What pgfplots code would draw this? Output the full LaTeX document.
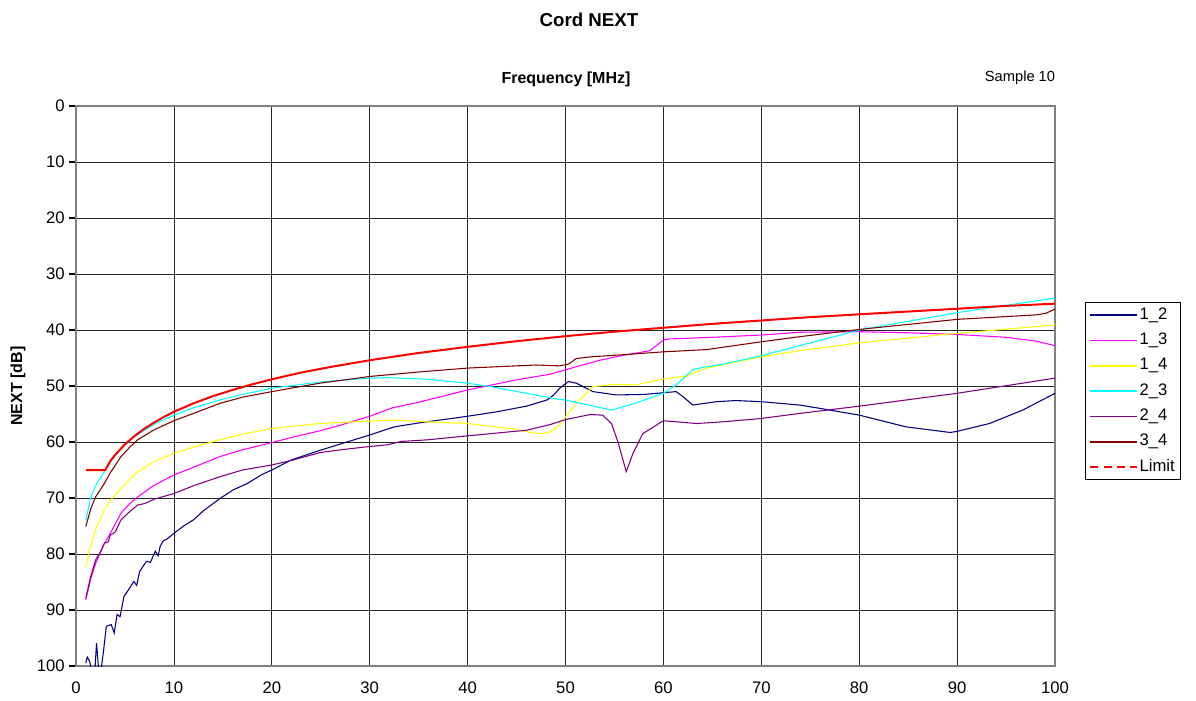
\documentclass[border=0pt]{standalone}
\usepackage{fontspec}
\setmainfont{Liberation Sans}
\usepackage{pgfplots}
\pgfplotsset{compat=1.18}
\definecolor{cnavy}{RGB}{0,0,128}
\definecolor{cmag}{RGB}{255,0,255}
\definecolor{cyel}{RGB}{255,255,0}
\definecolor{ccyan}{RGB}{0,255,255}
\definecolor{cpurp}{RGB}{128,0,128}
\definecolor{cbrown}{RGB}{128,0,0}
\definecolor{cred}{RGB}{255,0,0}
\begin{document}
\begin{tikzpicture}
\path[use as bounding box] (-57pt,-25.5pt) rectangle (840pt,499.5pt);
\begin{axis}[
  at={(0pt,0pt)}, anchor=south west,
  scale only axis, width=734.25pt, height=420pt,
  xmin=0, xmax=100, ymin=0, ymax=100, y dir=reverse,
  xtick={0,10,...,100}, ytick={0,10,...,100},
  grid=major,
  major grid style={black!85, line width=0.6pt},
  axis line style={gray, line width=1.2pt},
  tick align=outside, major tick length=5pt,
  xtick style={draw=none},
  ytick style={draw=none},
  /pgf/number format/assume math mode=true,
  tick label style={font=\fontsize{12.5}{14}\selectfont},
  xticklabel style={yshift=-3pt},
  title={\textbf{Cord NEXT}},
  title style={at={(axis description cs:0.524,1.14)}, anchor=center, font=\fontsize{14}{16}\selectfont},
  xlabel={\textbf{Frequency [MHz]}},
  xlabel style={at={(axis description cs:0.5005,1.048)}, anchor=center, font=\fontsize{12}{14}\selectfont},
  ylabel={\textbf{NEXT [dB]}},
  ylabel style={at={(axis description cs:-0.0592,0.5)}, anchor=center, rotate=0, font=\fontsize{12}{14}\selectfont},
  legend style={at={(axis description cs:1.0306,0.65)}, anchor=north west, draw=black, line width=0.75pt,
    font=\fontsize{12.5}{14}\selectfont, fill=white, inner xsep=3pt, inner ysep=2pt, row sep=4pt,
    nodes={inner sep=1.5pt, text height=9pt, text depth=3pt}},
  legend cell align=left,
  legend image code/.code={\draw[#1, line width=1.1pt] (0pt,0pt) -- (35pt,0pt);},
]
\addplot[cnavy, line width=0.8pt] coordinates {
(1,99.5)(1.15,98.4)(1.4,99.2)(1.6,100.8)(1.9,101.5)(2.1,95.9)(2.3,100.5)(2.5,101.5)(2.8,97.5)
(3.1,92.9)(3.6,92.6)(3.9,94.1)(4.2,90.8)(4.5,91.2)(4.9,87.6)(5.4,86.3)(5.9,84.9)(6.2,85.6)
(6.5,83.1)(7.2,81.3)(7.6,81.5)(8.1,79.5)(8.4,80.3)(8.6,78.6)(8.9,77.7)(9.3,77.3)(10,76.3)
(11,75.0)(12,73.9)(13,72.3)(14.7,70.1)(16,68.6)(17.5,67.4)(19,65.8)(20,65.0)(22,63.2)
(24.9,61.5)(27.3,60.2)(30,58.75)(32.5,57.3)(35,56.6)(40,55.4)(43,54.6)(46,53.6)(48.1,52.5)
(48.8,51.6)(49.4,50.4)(50.3,49.2)(51.1,49.5)(52.8,51.0)(55.2,51.6)(58,51.5)(60,51.2)(61.3,51.0)
(62,51.9)(63,53.4)(65.4,52.8)(67.4,52.6)(70,52.8)(73.9,53.4)(76,54.0)(80,55.2)(84.8,57.3)
(89.3,58.3)(90,58.1)(93.3,56.7)(96.7,54.3)(100,51.3)};
\addlegendentry{1\_2}
\addplot[cmag, line width=0.8pt] coordinates {
(1,88.2)(1.5,84.5)(2,81.7)(2.9,78.1)(3.5,76.3)(4.6,72.7)(5.5,71.0)(6.3,69.8)(8,67.7)(10,65.9)
(12,64.5)(14.7,62.6)(17,61.4)(20,60.1)(22,59.2)(24.9,58.0)(27,57.0)(30,55.4)(32.3,53.9)(35,52.9)
(40,50.7)(45,48.9)(48.4,47.9)(50,47.1)(53.5,45.4)(56,44.5)(58.6,43.7)(60,41.8)(60.6,41.6)
(65,41.3)(70,40.9)(73.9,40.4)(80,40.3)(85,40.5)(90,40.8)(95,41.3)(98.1,42.0)(100,42.8)};
\addlegendentry{1\_3}
\addplot[cyel, line width=0.8pt] coordinates {
(1,82.3)(1.5,78.5)(2,75.7)(2.9,72.1)(3.5,70.4)(4.6,68.3)(5.5,66.6)(6.3,65.3)(8,63.5)(10,62.0)
(12,60.9)(14.7,59.6)(17,58.6)(20,57.6)(22,57.2)(24.9,56.7)(30,56.25)(32.5,56.1)(36,56.4)(40,56.7)
(44.4,57.6)(47.1,58.5)(48.4,58.3)(49.4,57.0)(50,55.5)(51.1,53.1)(52.8,50.1)(55.2,49.7)(57.2,49.8)
(60,48.75)(62.4,48.2)(64.4,46.8)(70,44.8)(73.9,43.7)(80,42.3)(90,40.6)(100,39.1)};
\addlegendentry{1\_4}
\addplot[ccyan, line width=0.8pt] coordinates {
(1,74.0)(1.5,70.0)(2,67.8)(3,65.0)(4,62.4)(5,60.5)(6,59.0)(8,56.8)(10,55.2)(12,53.9)
(14.7,52.5)(17,51.5)(20,50.4)(24.9,49.3)(30,48.6)(31.8,48.5)(35.9,48.8)(40,49.5)(42.3,50.1)
(46,51.3)(49.4,52.4)(50,52.5)(54.7,54.3)(56.9,53.2)(60,51.3)(61.3,49.8)(63,47.1)(64,46.7)
(66.1,46.1)(70,44.6)(73.9,42.8)(80,40.0)(90,36.9)(100,34.3)};
\addlegendentry{2\_3}
\addplot[cpurp, line width=0.8pt] coordinates {
(1,87.9)(1.5,84.0)(2,81.1)(2.5,79.6)(2.9,78.1)(3.3,77.8)(3.5,76.6)(4.0,76.1)(4.6,73.9)(5.5,72.4)
(6.3,71.25)(7,71.0)(8,70.2)(10,69.2)(12,67.8)(14.7,66.2)(17,65.0)(20,64.1)(22,63.3)(24.9,61.9)
(27,61.4)(30,60.8)(31.8,60.5)(33.2,59.9)(36,59.6)(40,58.9)(43,58.4)(46,57.9)(48.4,56.9)(50,56.0)
(52.5,55.1)(53.8,55.2)(54.7,56.7)(55.4,60.2)(56.2,65.3)(56.9,62.0)(57.9,58.5)(60,56.2)(63.4,56.7)
(66,56.4)(70,55.8)(73.9,54.9)(80,53.6)(90,51.3)(100,48.6)};
\addlegendentry{2\_4}
\addplot[cbrown, line width=0.8pt] coordinates {
(1,75.1)(1.5,72.0)(2,69.8)(2.9,67.4)(3.5,65.5)(4.6,62.6)(5.5,60.9)(6.3,59.6)(8,57.8)(10,56.2)
(12,54.9)(14.7,53.1)(17,52.0)(20,51.0)(24.9,49.5)(30,48.3)(35,47.5)(40,46.8)(45,46.4)(47,46.25)
(49.4,46.4)(50.3,46.1)(51.1,45.1)(52.5,44.8)(56,44.4)(60,43.9)(64.4,43.5)(70,42.1)(73.9,41.2)
(80,39.9)(85,39.0)(90,38.1)(95,37.6)(98.1,37.3)(99.1,37.0)(100,36.25)};
\addlegendentry{3\_4}
\addplot[cred, line width=1.5pt, forget plot] coordinates {
(1,65)(3,65)(3.5,63.4)(4,62.3)(5,60.4)(6,58.9)(7,57.6)(8,56.5)(9,55.5)(10,54.6)(12,53.1)(14,51.8)
(16,50.7)(18,49.7)(20,48.8)(23,47.6)(26,46.6)(30,45.4)(35,44.1)(40,43.0)(45,42.0)(50,41.1)
(55,40.3)(60,39.6)(65,38.9)(70,38.3)(75,37.7)(80,37.2)(85,36.7)(90,36.2)(95,35.7)(100,35.3)};
\addlegendimage{cred, line width=1.5pt, dash pattern=on 6pt off 4pt}
\addlegendentry{Limit}
\end{axis}
\foreach \i in {0,...,10} {\draw[black, line width=0.9pt] (-0.5pt,\i*42pt) -- (-5.5pt,\i*42pt);}
\node[anchor=center, font=\fontsize{11}{13}\selectfont] at (708pt,441pt) {Sample 10};
\end{tikzpicture}
\end{document}
